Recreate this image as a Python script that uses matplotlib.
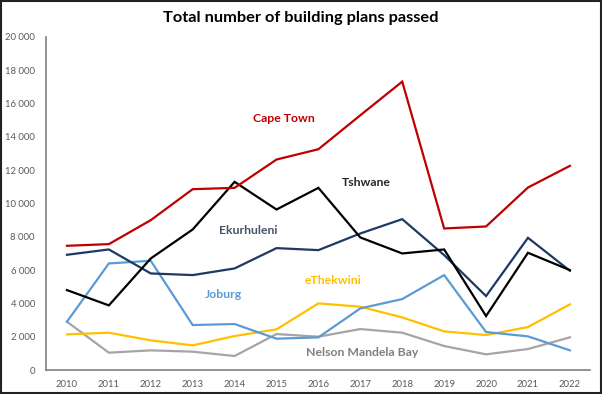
import matplotlib
matplotlib.use("Agg")
import matplotlib.pyplot as plt
from matplotlib.ticker import FuncFormatter
from matplotlib.patches import Rectangle

years = list(range(2010, 2023))
cape_town = [7460, 7560, 9000, 10860, 10940, 12640, 13260, 15300, 17320, 8500, 8620, 10960, 12260]
tshwane = [4800, 3880, 6700, 8440, 11300, 9640, 10940, 7960, 7000, 7240, 3240, 7040, 6000]
ekurhuleni = [6920, 7240, 5800, 5700, 6100, 7320, 7200, 8200, 9060, 6900, 4440, 7940, 5960]
joburg = [2900, 6400, 6560, 2700, 2760, 1880, 1960, 3700, 4260, 5700, 2280, 2020, 1180]
ethekwini = [2140, 2240, 1780, 1480, 2040, 2440, 4000, 3800, 3160, 2320, 2100, 2580, 3940]
nelson_mandela_bay = [2900, 1040, 1180, 1100, 840, 2160, 2000, 2460, 2240, 1440, 940, 1260, 1960]
y_ticks = [0, 2000, 4000, 6000, 8000, 10000, 12000, 14000, 16000, 18000, 20000]
title = "Total number of building plans passed"

series = [
    ("Nelson Mandela Bay", nelson_mandela_bay, "#A5A5A5", (362, 353)),
    ("eThekwini", ethekwini, "#FFC000", (333, 281)),
    ("Joburg", joburg, "#5B9BD5", (223, 295)),
    ("Ekurhuleni", ekurhuleni, "#1F3864", (248, 230)),
    ("Tshwane", tshwane, "#000000", (366, 183)),
    ("Cape Town", cape_town, "#C00000", (284, 118)),
]
label_colors = {"Nelson Mandela Bay": "#808080", "Tshwane": "#262626",
                "Ekurhuleni": "#44546A"}

plt.rcParams['font.family'] = ['Lato', 'DejaVu Sans']
W, H = 602, 394
fig = plt.figure(figsize=(W / 100, H / 100), dpi=100)
ax = fig.add_axes([46 / W, 1 - 370 / H, (590 - 46) / W, (370 - 37) / H])

for name, vals, color, pos in series:
    ax.plot(years, vals, color=color, lw=1.6, solid_joinstyle='miter')
    fig.text(pos[0] / W, 1 - pos[1] / H, name, color=label_colors.get(name, color),
             fontsize=8.8, fontweight='bold', ha='center', va='center')

ax.set_xlim(2009.5, 2022.48)
ax.set_ylim(0, 20000)
ax.set_yticks(y_ticks)
ax.yaxis.set_major_formatter(FuncFormatter(lambda v, p: f"{int(v):,}".replace(",", " ")))
ax.set_xticks(years)
ax.tick_params(length=0, labelsize=6.8, labelcolor="#595959")
ax.tick_params(axis='y', pad=8)
ax.tick_params(axis='x', pad=7)
for s in ['top', 'right']:
    ax.spines[s].set_visible(False)
for s in ['left', 'bottom']:
    ax.spines[s].set_color("#7F7F7F")
    ax.spines[s].set_linewidth(1.2)

fig.text(301 / W, 1 - 18 / H, title, fontsize=11.8, fontweight='bold',
         ha='center', va='center', color='black')
fig.patches.append(Rectangle((0.002, 0.003), 0.996, 0.994, transform=fig.transFigure,
                             fill=False, edgecolor='#222222', lw=1.5))
fig.savefig("out.png", dpi=100)
